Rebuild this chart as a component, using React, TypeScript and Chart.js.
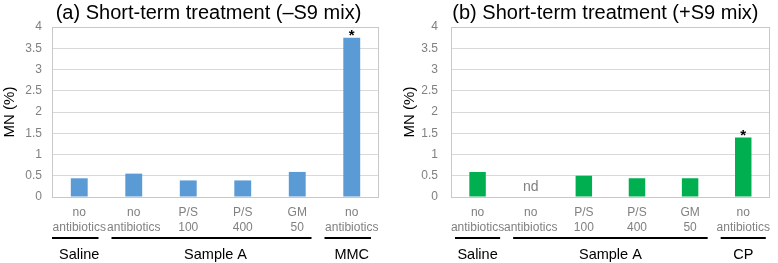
import React, { useEffect, useRef } from "react";
import { Chart, registerables } from "chart.js";

Chart.register(...registerables);

// ---- data ----
const categoryLabels: string[][] = [
  ["no", "antibiotics"],
  ["no", "antibiotics"],
  ["P/S", "100"],
  ["P/S", "400"],
  ["GM", "50"],
  ["no", "antibiotics"],
];
const valuesMinusS9: (number | null)[] = [0.44, 0.55, 0.39, 0.39, 0.59, 3.75];
const valuesPlusS9: (number | null)[] = [0.59, null, 0.5, 0.44, 0.44, 1.4];
const significantMinusS9: boolean[] = [false, false, false, false, false, true];
const significantPlusS9: boolean[] = [false, false, false, false, false, true];
const notDeterminedPlusS9: boolean[] = [false, true, false, false, false, false];
const groupNamesMinusS9: string[] = ["Saline", "Sample A", "MMC"];
const groupNamesPlusS9: string[] = ["Saline", "Sample A", "CP"];
const groupFirst: number[] = [0, 1, 5];
const groupLast: number[] = [0, 4, 5];
const yTickMin = 0;
const yTickMax = 4;
const yTickStep = 0.5;
const titleMinus = "(a) Short-term treatment (\u2013S9 mix)";
const titlePlus = "(b) Short-term treatment (+S9 mix)";
const yAxisTitle = "MN (%)";

const FONT = "'Liberation Sans', Arial, sans-serif";

type PanelCfg = {
  title: string;
  values: (number | null)[];
  sig: boolean[];
  nd: boolean[];
  groups: string[];
  color: string;
  yWidth: number;
  tickPad: number;
  rightPad: number;
  titleShift: number;
  yTitleX: number;
  lineShift: number;
};

function makeChart(canvas: HTMLCanvasElement, cfg: PanelCfg) {
  const overlay = {
    id: "overlay",
    beforeDatasetsDraw(chart: any) {
      const { ctx, chartArea } = chart;
      ctx.save();
      ctx.strokeStyle = "#c8c8c8";
      ctx.lineWidth = 1;
      ctx.strokeRect(
        Math.round(chartArea.left) + 0.5,
        Math.round(chartArea.top) + 0.5,
        Math.round(chartArea.right - chartArea.left) - 1,
        Math.round(chartArea.bottom - chartArea.top)
      );
      ctx.restore();
    },
    afterDraw(chart: any) {
      const { ctx, chartArea } = chart;
      const xs = chart.scales.x;
      const ys = chart.scales.y;
      const catW = xs.getPixelForValue(1) - xs.getPixelForValue(0);
      ctx.save();
      // title
      ctx.fillStyle = "#000";
      ctx.font = `20px ${FONT}`;
      ctx.textAlign = "center";
      ctx.textBaseline = "alphabetic";
      ctx.fillText(cfg.title, (chartArea.left + chartArea.right) / 2 + cfg.titleShift, 19);
      // y title
      ctx.save();
      ctx.translate(cfg.yTitleX, (chartArea.top + chartArea.bottom) / 2);
      ctx.rotate(-Math.PI / 2);
      ctx.font = `15px ${FONT}`;
      ctx.textAlign = "center";
      ctx.textBaseline = "middle";
      ctx.fillStyle = "#000";
      ctx.fillText(yAxisTitle, 0, 0);
      ctx.restore();
      // asterisks and nd
      cfg.values.forEach((v, i) => {
        const x = xs.getPixelForValue(i);
        if (cfg.sig[i] && v != null) {
          ctx.font = `bold 15px ${FONT}`;
          ctx.fillStyle = "#000";
          ctx.textAlign = "center";
          ctx.textBaseline = "alphabetic";
          ctx.fillText("*", x, ys.getPixelForValue(v) + 2);
        }
        if (cfg.nd[i]) {
          ctx.font = `14px ${FONT}`;
          ctx.fillStyle = "#808080";
          ctx.textAlign = "center";
          ctx.textBaseline = "middle";
          ctx.fillText("nd", x, ys.getPixelForValue(0) - 10);
        }
      });
      // group lines and labels
      cfg.groups.forEach((name, g) => {
        const a = groupFirst[g];
        const b = groupLast[g];
        const inset = a === b ? 4 : 9;
        const x0 = xs.getPixelForValue(a) - catW / 2 + inset + cfg.lineShift;
        const x1 = xs.getPixelForValue(b) + catW / 2 - inset + cfg.lineShift;
        ctx.fillStyle = "#000";
        ctx.fillRect(x0, 237, x1 - x0, 2);
        ctx.font = `14.5px ${FONT}`;
        ctx.textAlign = "center";
        ctx.textBaseline = "middle";
        ctx.fillText(name, (xs.getPixelForValue(a) + xs.getPixelForValue(b)) / 2, 255);
      });
      ctx.restore();
    },
  };

  return new Chart(canvas, {
    type: "bar",
    data: {
      labels: categoryLabels as any,
      datasets: [
        {
          data: cfg.values as any,
          backgroundColor: cfg.color,
          barPercentage: 0.31,
          categoryPercentage: 1,
        },
      ],
    },
    options: {
      responsive: false,
      animation: false,
      devicePixelRatio: 1,
      layout: { padding: { top: 27, right: cfg.rightPad, left: 0, bottom: 0 } },
      plugins: {
        legend: { display: false },
        tooltip: { enabled: false },
        title: { display: false },
      },
      scales: {
        x: {
          grid: { display: false, drawTicks: false },
          border: { display: false },
          ticks: {
            color: "#808080",
            font: { family: FONT, size: 12, lineHeight: 1.25 },
            padding: 8,
            maxRotation: 0,
            autoSkip: false,
          },
          afterFit: (s: any) => {
            s.height = 66;
          },
        },
        y: {
          min: yTickMin,
          max: yTickMax,
          grid: { color: "#d9d9d9", drawTicks: false },
          border: { display: false },
          ticks: {
            stepSize: yTickStep,
            color: "#808080",
            font: { family: FONT, size: 12 },
            padding: cfg.tickPad,
            callback: (v: any) => String(Number(v)),
          },
          afterFit: (s: any) => {
            s.width = cfg.yWidth;
          },
        },
      },
    },
    plugins: [overlay],
  });
}

function Panel({ cfg }: { cfg: PanelCfg }) {
  const ref = useRef<HTMLCanvasElement>(null);
  useEffect(() => {
    if (!ref.current) return;
    const c = makeChart(ref.current, cfg);
    return () => c.destroy();
  }, []);
  return <canvas ref={ref} width={389} height={263} style={{ display: "block", width: 389, height: 263 }} />;
}

export default function App() {
  const left: PanelCfg = {
    title: titleMinus,
    values: valuesMinusS9,
    sig: significantMinusS9,
    nd: [false, false, false, false, false, false],
    groups: groupNamesMinusS9,
    color: "#5b9bd5",
    yWidth: 52,
    tickPad: 10,
    rightPad: 10,
    titleShift: -7,
    yTitleX: 10,
    lineShift: -4,
  };
  const right: PanelCfg = {
    title: titlePlus,
    values: valuesPlusS9,
    sig: significantPlusS9,
    nd: notDeterminedPlusS9,
    groups: groupNamesPlusS9,
    color: "#00b050",
    yWidth: 62,
    tickPad: 13,
    rightPad: 1,
    titleShift: -5,
    yTitleX: 21,
    lineShift: 0,
  };
  return (
    <div style={{ position: "fixed", left: 0, top: 0, width: 778, height: 263, display: "flex", background: "#fff" }}>
      <Panel cfg={left} />
      <Panel cfg={right} />
    </div>
  );
}
